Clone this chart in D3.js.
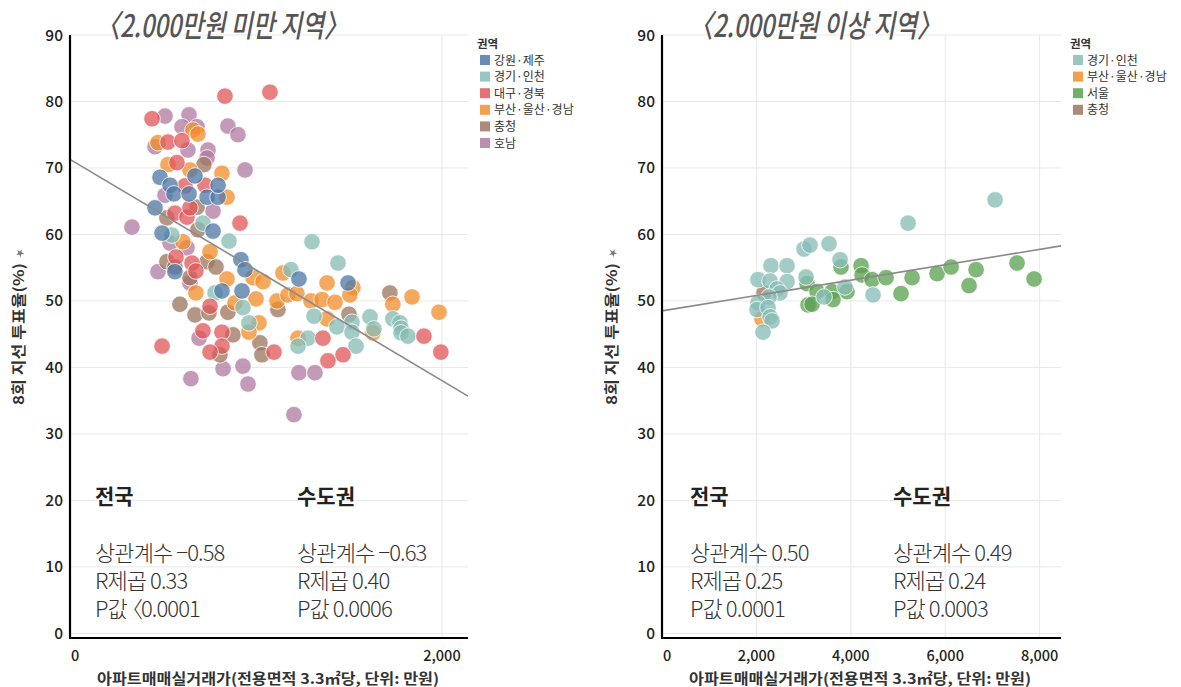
<!DOCTYPE html>
<html>
<head>
<meta charset="utf-8">
<script src="https://cdn.jsdelivr.net/npm/d3@7"></script>
<style>
  body { margin: 0; background: #fff; }
  text { font-family: 'Noto Sans CJK KR', 'Noto Sans', sans-serif; }
</style>
</head>
<body>
<div id="chart"></div>
<script>
// ---- data: [price (만원/3.3㎡), turnout %] ----
const lowGangwonJeju = [[457,64.0],[484,68.6],[538,67.4],[559,66.1],[640,66.1],[672,68.8],[737,65.6],[796,65.6],[796,67.4],[495,60.2],[769,60.5],[564,54.4],[919,56.2],[941,54.7],[817,51.5],[925,51.5],[1231,53.3],[1495,52.7]];
const lowGyeonggiIncheon = [[715,61.7],[548,59.9],[855,59.0],[1301,58.9],[1441,55.7],[1188,54.7],[780,51.2],[930,49.0],[962,46.7],[1312,47.7],[1613,47.6],[1516,46.8],[1736,47.3],[1774,46.7],[1435,46.1],[1516,45.3],[1634,45.8],[1780,45.9],[1780,45.2],[1817,44.7],[1280,44.4],[1226,43.2],[1538,43.2]];
const lowDaeguGyeongbuk = [[833,80.8],[1075,81.4],[441,77.4],[527,73.9],[602,74.1],[575,70.8],[618,67.3],[726,67.4],[564,63.2],[629,62.6],[645,64.0],[914,61.7],[570,56.6],[656,55.7],[677,54.5],[753,49.2],[715,45.5],[817,45.3],[817,43.2],[753,42.3],[495,43.2],[1097,42.3],[1360,44.4],[1468,41.9],[1387,41.0],[1903,44.7],[1994,42.3]];
const lowBusanUlsanGyeongnam = [[473,73.8],[661,75.7],[688,75.1],[527,70.5],[645,69.7],[817,69.2],[844,65.6],[607,58.9],[753,57.4],[677,51.2],[844,53.3],[984,53.5],[1038,52.9],[1145,54.2],[887,49.7],[1000,50.3],[1113,50.0],[1172,50.9],[1016,46.7],[962,45.3],[1382,52.7],[1521,52.0],[1505,50.9],[1220,51.1],[1296,50.0],[1355,50.2],[1425,49.8],[1839,50.6],[1736,49.5],[1984,48.3],[1382,47.3],[1629,45.2],[1226,44.4]];
const lowChungcheong = [[720,70.5],[521,62.5],[683,64.1],[688,60.7],[521,55.9],[564,55.1],[737,55.9],[785,55.1],[645,53.5],[591,49.5],[672,47.9],[747,48.2],[849,48.3],[1118,48.7],[876,44.9],[806,41.9],[1021,43.7],[1032,41.9],[1720,51.2],[1500,48.0]];
const lowHonam = [[511,77.8],[640,78.0],[602,76.2],[683,76.2],[849,76.3],[903,75.0],[457,73.2],[634,72.7],[742,72.7],[737,71.5],[941,69.7],[511,65.9],[769,63.5],[333,61.1],[538,58.7],[629,58.0],[473,54.4],[645,52.7],[694,44.4],[823,39.8],[930,40.2],[650,38.3],[957,37.5],[1231,39.2],[1317,39.2],[1204,32.9]];

const highGyeonggiIncheon = [[5213,61.7],[7056,65.2],[3009,57.8],[3136,58.4],[3539,58.6],[3772,56.2],[2310,55.3],[2649,55.3],[2034,53.2],[2289,53.0],[2649,52.9],[3051,53.6],[2437,51.8],[2500,51.2],[2267,50.6],[2034,49.7],[2013,48.7],[2246,49.0],[2289,47.6],[2331,47.0],[2140,45.3],[4471,50.9],[3878,52.1],[3433,50.6]];
const highBusanUlsanGyeongnam = [[2119,47.3]];
const highSeoul = [[3793,55.1],[4217,55.3],[4238,53.9],[4450,53.2],[4747,53.5],[5298,53.5],[5827,54.1],[6124,55.1],[6654,54.7],[7522,55.7],[7883,53.3],[6505,52.3],[5064,51.1],[3073,52.6],[3284,51.4],[3602,51.4],[3920,51.4],[3623,50.2],[3094,49.4],[3179,49.5]];
const highChungcheong = [[2161,51.2]];

const yTicks = [0, 10, 20, 30, 40, 50, 60, 70, 80, 90];
const lowXTicks = [0, 2000];
const highXTicks = [0, 2000, 4000, 6000, 8000];

// trend lines [intercept, slope]
const lowTrend = [71.3, -0.01664];
const highTrend = [48.5, 0.001157];

const lowStats = { 전국: ['상관계수 −0.58', 'R제곱 0.33', 'P값 〈0.0001'], 수도권: ['상관계수 −0.63', 'R제곱 0.40', 'P값 0.0006'] };
const highStats = { 전국: ['상관계수 0.50', 'R제곱 0.25', 'P값 0.0001'], 수도권: ['상관계수 0.49', 'R제곱 0.24', 'P값 0.0003'] };

const colors = {
  '강원·제주': '#4e79a7',
  '경기·인천': '#86bcb6',
  '대구·경북': '#e15759',
  '부산·울산·경남': '#f28e2b',
  '서울': '#59a14f',
  '충청': '#9c755f',
  '호남': '#b07aa1',
};

const svg = d3.select('#chart').append('svg').attr('width', 1181).attr('height', 687);

function drawPanel(p) {
  const x = d3.scaleLinear().domain(p.xDomain).range(p.xRange);
  const y = d3.scaleLinear().domain([-0.7, 90]).range([638, 35]);
  const g = svg.append('g');

  // grid
  g.selectAll('.hgrid').data(yTicks).join('line')
    .attr('x1', p.xRange[0]).attr('x2', p.xRange[1])
    .attr('y1', (d) => y(d)).attr('y2', (d) => y(d))
    .attr('stroke', '#e8e8e8').attr('stroke-width', 1);
  g.selectAll('.vgrid').data(p.xTicks.filter((d) => d > 0)).join('line')
    .attr('x1', (d) => x(d)).attr('x2', (d) => x(d))
    .attr('y1', y(90)).attr('y2', y(-0.7))
    .attr('stroke', '#e8e8e8').attr('stroke-width', 1);

  // points (drawn in a z-order that follows the picture, legend keeps its own order)
  const byName = new Map(p.series.map((s) => [s.name, s.values]));
  const points = p.drawOrder.flatMap((name) => byName.get(name).map((v) => ({ name, x: v[0], y: v[1] })));
  g.selectAll('.dot').data(points).join('circle')
    .attr('cx', (d) => x(d.x)).attr('cy', (d) => y(d.y)).attr('r', 8.3)
    .attr('fill', (d) => colors[d.name]).attr('fill-opacity', 0.76)
    .attr('stroke', '#fff').attr('stroke-opacity', 0.8).attr('stroke-width', 1);

  // trend line
  const [b0, b1] = p.trend;
  g.append('line')
    .attr('x1', x(p.xDomain[0])).attr('y1', y(b0 + b1 * p.xDomain[0]))
    .attr('x2', x(p.xDomain[1])).attr('y2', y(b0 + b1 * p.xDomain[1]))
    .attr('stroke', '#8a8a8a').attr('stroke-width', 1.6);

  // axes
  g.append('line').attr('x1', p.xRange[0]).attr('x2', p.xRange[0]).attr('y1', y(90)).attr('y2', 639)
    .attr('stroke', '#000').attr('stroke-width', 2.2);
  g.append('line').attr('x1', p.xRange[0] - 1).attr('x2', p.xRange[1]).attr('y1', 638).attr('y2', 638)
    .attr('stroke', '#000').attr('stroke-width', 2.2);

  g.selectAll('.ylab').data(yTicks).join('text')
    .attr('x', p.xRange[0] - 7).attr('y', (d) => y(d) + 5.5)
    .attr('text-anchor', 'end').attr('font-size', 15.5).attr('font-family', 'Noto Sans').attr('font-weight', 500)
    .attr('fill', '#222').text((d) => d);
  g.selectAll('.xlab').data(p.xTicks).join('text')
    .attr('x', (d) => (d === 0 ? x(d) + 1 : x(d))).attr('y', 661)
    .attr('text-anchor', (d) => (d === 0 ? 'start' : 'middle'))
    .attr('font-size', 14.5).attr('font-family', 'Noto Sans').attr('font-weight', 500)
    .attr('fill', '#222').text((d) => d3.format(',')(d));

  // axis titles
  g.append('text').attr('x', p.xTitleX).attr('y', 684).attr('text-anchor', 'middle')
    .attr('font-size', 14.5).attr('font-weight', 700).attr('fill', '#333')
    .attr('textLength', 342).attr('lengthAdjust', 'spacingAndGlyphs')
    .text('아파트매매실거래가(전용면적 3.3㎡당, 단위: 만원)');
  g.append('text').attr('transform', `translate(${p.yTitleX},334) rotate(-90)`).attr('text-anchor', 'middle')
    .attr('font-size', 14.5).attr('font-weight', 700).attr('fill', '#333')
    .attr('textLength', 142).attr('lengthAdjust', 'spacingAndGlyphs')
    .text('8회 지선 투표율(%)');
  g.append('path').attr('d', d3.symbol(d3.symbolStar, 20)())
    .attr('transform', `translate(${p.yTitleX - 4},253) rotate(-45)`).attr('fill', '#777');

  // title
  g.append('text').attr('x', p.titleX).attr('y', 37)
    .attr('font-size', 31).attr('font-style', 'italic').attr('font-weight', 500).attr('fill', '#555')
    .attr('textLength', 252).attr('lengthAdjust', 'spacingAndGlyphs')
    .text(p.title);

  // legend
  const lg = g.append('g').attr('transform', `translate(${p.legendX},0)`);
  lg.append('text').attr('x', 0).attr('y', 48).attr('font-size', 11.5).attr('font-weight', 700).attr('fill', '#333').text('권역');
  p.series.forEach((s, i) => {
    const cy = 60 + i * 16.6;
    lg.append('rect').attr('x', 3).attr('y', cy - 5).attr('width', 10).attr('height', 10)
      .attr('fill', colors[s.name]).attr('fill-opacity', 0.85);
    lg.append('text').attr('x', 17).attr('y', cy + 4.5).attr('font-size', 12).attr('fill', '#333').text(s.name);
  });

  // stats text
  p.statsX.forEach((sx, i) => {
    const key = i === 0 ? '전국' : '수도권';
    g.append('text').attr('x', sx).attr('y', 504).attr('font-size', 21).attr('font-weight', 700)
      .attr('fill', '#222').text(key);
    p.stats[key].forEach((line, j) => {
      const t = g.append('text').attr('x', sx).attr('y', 561 + j * 28).attr('font-size', 22).attr('font-weight', 300)
        .attr('letter-spacing', -0.9).attr('fill', '#333');
      const k = line.indexOf('〈');
      if (k < 0) {
        t.text(line);
      } else {
        // full-width bracket: pull it in so it hugs the number like the original
        t.append('tspan').text(line.slice(0, k));
        t.append('tspan').attr('dx', -10).text('〈');
        t.append('tspan').attr('dx', -1).text(line.slice(k + 1));
      }
    });
  });
}

drawPanel({
  title: '〈2.000만원 미만 지역〉',
  titleX: 96,
  xDomain: [0, 2140],
  xRange: [70, 468],
  xTicks: lowXTicks,
  trend: lowTrend,
  xTitleX: 268,
  yTitleX: 24,
  legendX: 477,
  statsX: [95, 297],
  stats: lowStats,
  series: [
    { name: '강원·제주', values: lowGangwonJeju },
    { name: '경기·인천', values: lowGyeonggiIncheon },
    { name: '대구·경북', values: lowDaeguGyeongbuk },
    { name: '부산·울산·경남', values: lowBusanUlsanGyeongnam },
    { name: '충청', values: lowChungcheong },
    { name: '호남', values: lowHonam },
  ],
  drawOrder: ['호남', '충청', '부산·울산·경남', '경기·인천', '대구·경북', '강원·제주'],
});

drawPanel({
  title: '〈2.000만원 이상 지역〉',
  titleX: 689,
  xDomain: [0, 8453],
  xRange: [662, 1061],
  xTicks: highXTicks,
  trend: highTrend,
  xTitleX: 860,
  yTitleX: 617,
  legendX: 1070,
  statsX: [690, 893],
  stats: highStats,
  series: [
    { name: '경기·인천', values: highGyeonggiIncheon },
    { name: '부산·울산·경남', values: highBusanUlsanGyeongnam },
    { name: '서울', values: highSeoul },
    { name: '충청', values: highChungcheong },
  ],
  drawOrder: ['부산·울산·경남', '충청', '서울', '경기·인천'],
});
</script>
</body>
</html>
